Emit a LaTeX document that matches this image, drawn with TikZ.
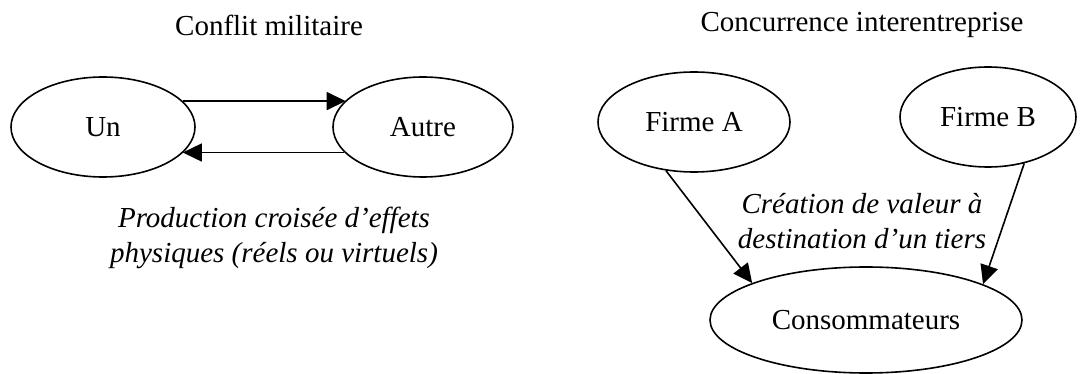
\documentclass[tikz,border=0pt]{standalone}
\usepackage{fontspec}
\setmainfont{Liberation Serif}
\usetikzlibrary{shapes.geometric,arrows.meta}
\begin{document}
\begin{tikzpicture}[x=1pt,y=-1pt,
  every node/.style={font=\fontsize{29}{35}\selectfont},
  ell/.style={draw,ellipse,line width=1.6pt,inner sep=0pt},
  arr/.style={line width=1.6pt,-{Triangle[length=19pt,width=18pt]}},
  lbl/.style={align=center,font=\fontsize{29}{35}\selectfont\itshape}]
\useasboundingbox (0,0) rectangle (1085,374);
% titles
\node (t1) at (269,25) {Conflit militaire};
\node (t2) at (862,25) {Concurrence interentreprise};
% left diagram
\node[ell,minimum width=184pt,minimum height=100pt] (un) at (103,127) {Un};
\node[ell,minimum width=180pt,minimum height=100pt] (autre) at (423,127) {Autre};
\draw[arr] (un.18) -- (un.18 -| autre.161);
\draw[arr] (autre.198) -- (autre.198 -| un.-18);
\node[lbl] (l1) at (274,238) {Production croisée d’effets\\physiques (réels ou virtuels)};
% right diagram
\node[ell,minimum width=192pt,minimum height=100pt] (fa) at (694,122) {Firme A};
\node[ell,minimum width=176pt,minimum height=100pt] (fb) at (988,117) {Firme B};
\node[ell,minimum width=312pt,minimum height=106pt] (cons) at (866,320) {Consommateurs};
\draw[arr] (fa.240) -- (cons.162);
\draw[arr] (fb.-52) -- (cons.17);
\node[lbl] (l2) at (862,221) {Création de valeur à\\destination d’un tiers};
\end{tikzpicture}
\end{document}
